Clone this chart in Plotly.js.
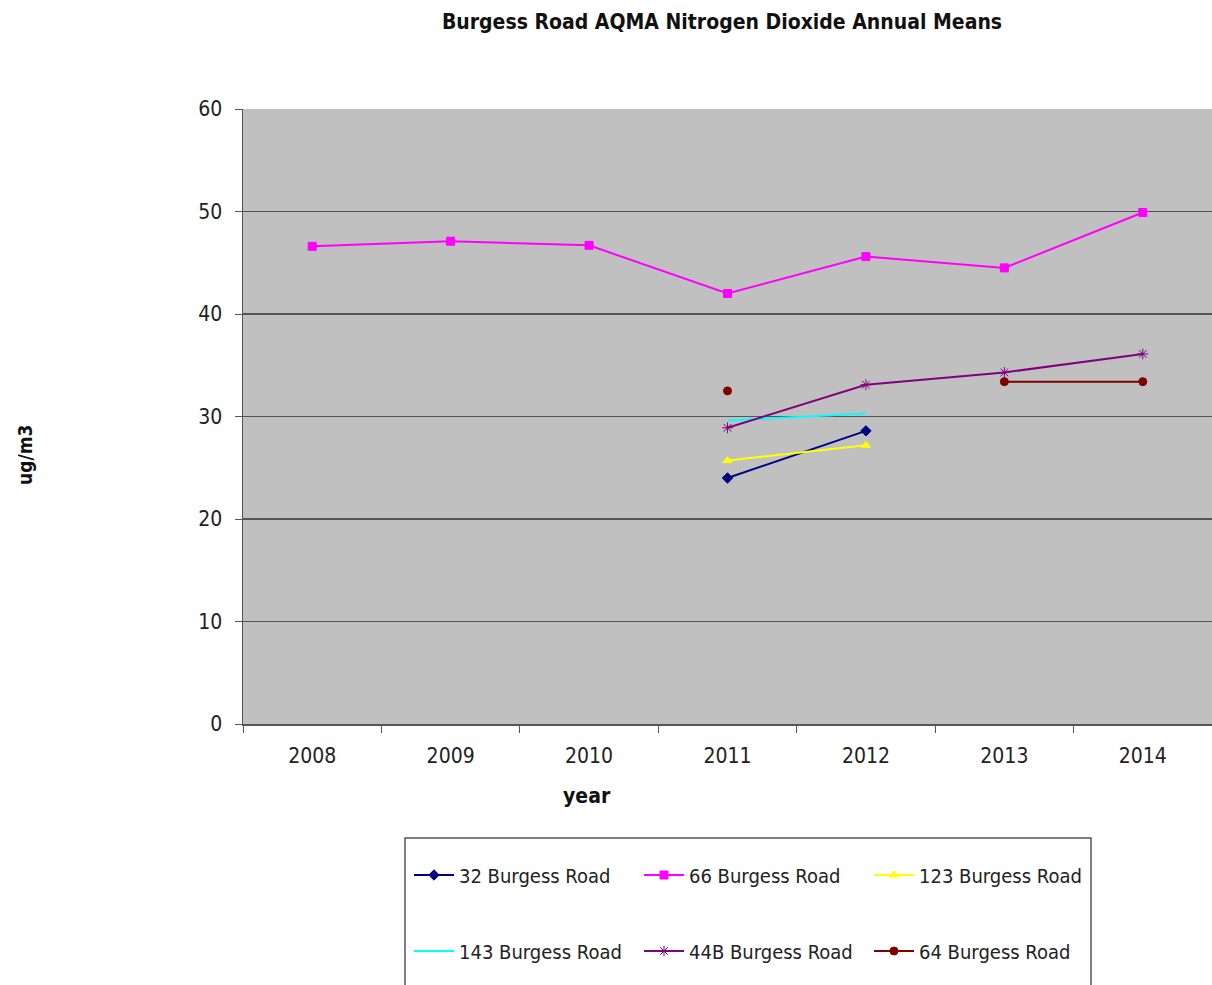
<!DOCTYPE html>
<html>
<head>
<meta charset="utf-8">
<script src="https://cdn.plot.ly/plotly-3.0.1.min.js"></script>
<style>html,body{margin:0;padding:0;background:#fff;}#chart{width:1212px;height:985px;}</style>
</head>
<body>
<div id="chart"></div>
<script>
const years = ['2008', '2009', '2010', '2011', '2012', '2013', '2014'];
const road32 = [null, null, null, 24.0, 28.6, null, null];
const road66 = [46.6, 47.1, 46.7, 42.0, 45.6, 44.5, 49.9];
const road123 = [null, null, null, 25.7, 27.2, null, null];
const road143 = [null, null, null, 29.6, 30.3, null, null];
const road44B = [null, null, null, 28.9, 33.1, 34.3, 36.1];
const road64 = [null, null, null, 32.5, null, 33.4, 33.4];
const seriesNames = ['32 Burgess Road', '66 Burgess Road', '123 Burgess Road', '143 Burgess Road', '44B Burgess Road', '64 Burgess Road'];

const FONT = '"DejaVu Sans Condensed", "Liberation Sans Narrow", "Arial Narrow", "Liberation Sans", sans-serif';

function tr(name, y, color, symbol, size, legend, showMarker) {
  return {
    x: years, y: y, name: name, type: 'scatter',
    mode: showMarker ? 'lines+markers' : 'lines',
    line: {color: color, width: 2},
    marker: {color: color, symbol: symbol, size: size, line: {color: color, width: 1}},
    connectgaps: false,
    legend: legend
  };
}

const traces = [
  tr(seriesNames[0], road32, '#000080', 'diamond', 8, 'legend', true),
  tr(seriesNames[1], road66, '#ff00ff', 'square', 8, 'legend', true),
  tr(seriesNames[2], road123, '#ffff00', 'triangle-up', 8, 'legend', true),
  tr(seriesNames[3], road143, '#00ffff', 'circle', 6, 'legend2', false),
  tr(seriesNames[4], road44B, '#800080', 'asterisk-open', 9, 'legend2', true),
  tr(seriesNames[5], road64, '#800000', 'circle', 8, 'legend2', true)
];

const W = 969, H = 615, L = 243, T = 109;
function px(x) { return (x - L) / W; }
function py(y) { return (T + H - y) / H; }

const legendCommon = {
  orientation: 'h', xanchor: 'left', yanchor: 'middle',
  bgcolor: 'rgba(0,0,0,0)', borderwidth: 0,
  font: {family: FONT, size: 20, color: '#222'},
  entrywidth: 175, entrywidthmode: 'pixels', itemwidth: 40, traceorder: 'normal'
};

const layout = {
  width: 1212, height: 985,
  margin: {l: L, r: 0, t: T, b: 985 - T - H, pad: 0},
  paper_bgcolor: '#ffffff',
  plot_bgcolor: '#c0c0c0',
  font: {family: FONT, size: 20, color: '#222'},
  title: {
    text: '<b>Burgess Road AQMA Nitrogen Dioxide Annual Means</b>',
    font: {family: FONT, size: 21, color: '#111'},
    x: px(722), xref: 'paper', xanchor: 'center', y: 1 - 22 / 985, yanchor: 'middle'
  },
  xaxis: {
    type: 'category', categoryorder: 'array', categoryarray: years,
    range: [-0.5, 6.5], tickson: 'boundaries',
    ticks: 'outside', ticklen: 7, tickcolor: '#555', tickwidth: 1,
    ticklabelstandoff: 12,
    showline: true, linecolor: '#555', linewidth: 1.5,
    showgrid: false, zeroline: false,
    tickfont: {family: FONT, size: 21, color: '#222'}
  },
  yaxis: {
    range: [0, 60], dtick: 10, tick0: 0,
    ticks: 'outside', ticklen: 7, tickcolor: '#555', tickwidth: 1,
    ticklabelstandoff: 8,
    showline: true, linecolor: '#555', linewidth: 1.5,
    showgrid: true, gridcolor: '#555555', gridwidth: 1.6,
    zeroline: false,
    tickfont: {family: FONT, size: 21, color: '#222'}
  },
  showlegend: true,
  legend: Object.assign({}, legendCommon, {x: px(409), y: py(875)}),
  legend2: Object.assign({}, legendCommon, {x: px(409), y: py(951)}),
  shapes: [
    {type: 'rect', xref: 'paper', yref: 'paper', x0: px(405), x1: px(1091), y0: py(838), y1: py(995),
     line: {color: '#555', width: 1.5}, fillcolor: 'rgba(0,0,0,0)', layer: 'below'}
  ],
  annotations: [
    {text: '<b>ug/m3</b>', xref: 'paper', yref: 'paper', x: px(25), y: py(455), textangle: -90,
     showarrow: false, xanchor: 'center', yanchor: 'middle', font: {family: FONT, size: 19, color: '#111'}},
    {text: '<b>year</b>', xref: 'paper', yref: 'paper', x: px(587), y: py(796),
     showarrow: false, xanchor: 'center', yanchor: 'middle', font: {family: FONT, size: 21, color: '#111'}}
  ]
};

Plotly.newPlot('chart', traces, layout, {displayModeBar: false, staticPlot: true});
</script>
</body>
</html>
